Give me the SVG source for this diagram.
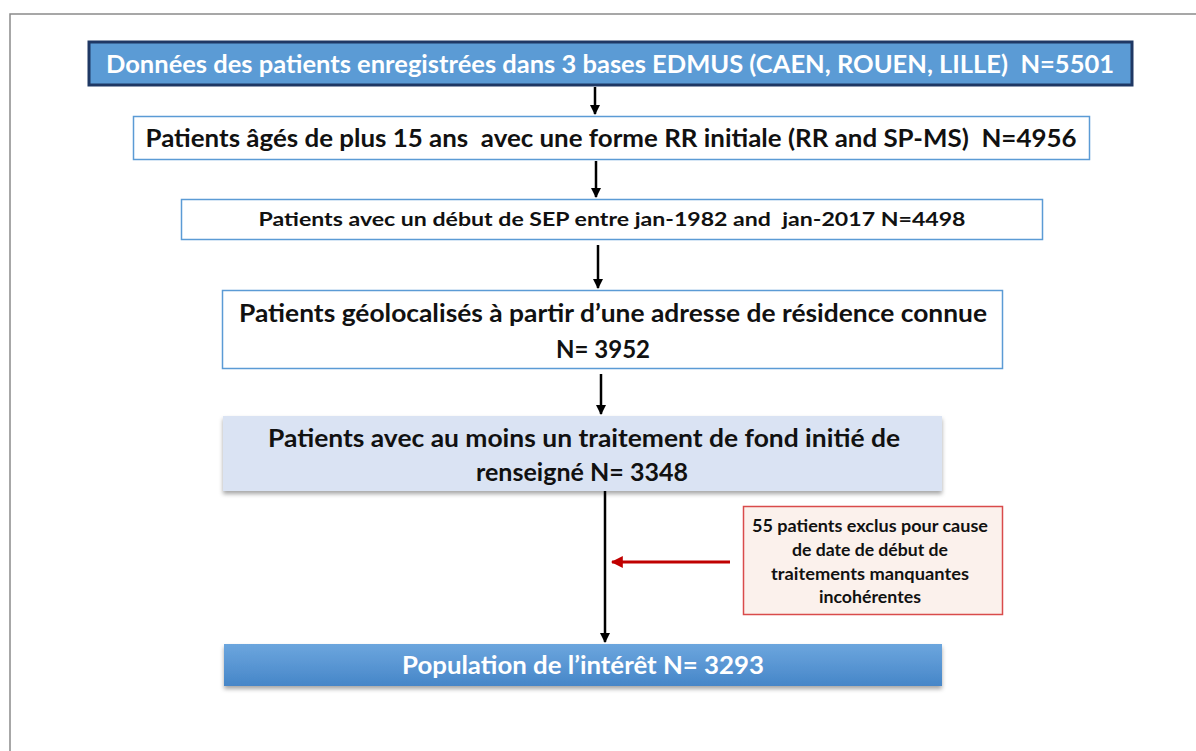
<svg xmlns="http://www.w3.org/2000/svg" width="1196" height="751" viewBox="0 0 1196 751">
<defs>
<style>
.t{font-family:Lato,"Open Sans","Liberation Sans",sans-serif;font-weight:bold;text-anchor:middle;white-space:pre}
.w{fill:#ffffff}
.k{fill:#111111}
.conn line{stroke:#000;stroke-width:2.5}
</style>
<marker id="ah" viewBox="0 0 10 10" refX="9" refY="5" markerWidth="4" markerHeight="4" orient="auto" markerUnits="strokeWidth">
<path d="M0,0 L10,5 L0,10 z" fill="#000"/>
</marker>
<marker id="ahr" viewBox="0 0 10 10" refX="9" refY="5" markerWidth="4" markerHeight="4" orient="auto" markerUnits="strokeWidth">
<path d="M0,0 L10,5 L0,10 z" fill="#C00000"/>
</marker>
<linearGradient id="g6" x1="0" y1="0" x2="0" y2="1">
<stop offset="0" stop-color="#6CA6DE"/>
<stop offset="1" stop-color="#4686C8"/>
</linearGradient>
<filter id="sh" x="-5%" y="-20%" width="110%" height="150%">
<feDropShadow dx="0" dy="3" stdDeviation="2" flood-color="#000" flood-opacity="0.35"/>
</filter>
</defs>
<rect width="1196" height="751" fill="#ffffff"/>
<rect x="10" y="14" width="1200" height="760" fill="none" stroke="#8a8a8a" stroke-width="1.5"/>

<g id="n1">
<rect x="89" y="42" width="1043" height="43" fill="#5B9BD5" stroke="#1F3864" stroke-width="3"/>
<text class="t w" x="610" y="73" font-size="24" textLength="1008" lengthAdjust="spacingAndGlyphs" xml:space="preserve">Données des patients enregistrées dans 3 bases EDMUS (CAEN, ROUEN, LILLE)  N=5501</text>
</g>
<g id="n2">
<rect x="133.5" y="116.5" width="956" height="43" fill="#ffffff" stroke="#5B9BD5" stroke-width="1.5"/>
<text class="t k" x="611" y="147" font-size="24" textLength="931" lengthAdjust="spacingAndGlyphs" xml:space="preserve">Patients âgés de plus 15 ans  avec une forme RR initiale (RR and SP-MS)  N=4956</text>
</g>
<g id="n3">
<rect x="181.5" y="199.5" width="861" height="40" fill="#ffffff" stroke="#5B9BD5" stroke-width="1.5"/>
<text class="t k" x="612" y="226" font-size="19.5" textLength="707" lengthAdjust="spacingAndGlyphs" xml:space="preserve">Patients avec un début de SEP entre jan-1982 and  jan-2017 N=4498</text>
</g>
<g id="n4">
<rect x="222.5" y="290.5" width="780" height="78" fill="#ffffff" stroke="#5B9BD5" stroke-width="1.5"/>
<text class="t k" x="613" y="322" font-size="24" textLength="748" lengthAdjust="spacingAndGlyphs">Patients géolocalisés à partir d’une adresse de résidence connue</text>
<text class="t k" x="603" y="358" font-size="24" textLength="94" lengthAdjust="spacingAndGlyphs">N= 3952</text>
</g>
<g id="n5">
<rect x="223" y="416" width="719" height="75" fill="#DAE3F3" filter="url(#sh)"/>
<text class="t k" x="584" y="447" font-size="24" textLength="632" lengthAdjust="spacingAndGlyphs">Patients avec au moins un traitement de fond initié de</text>
<text class="t k" x="582" y="481" font-size="24" textLength="212" lengthAdjust="spacingAndGlyphs">renseigné N= 3348</text>
</g>
<g id="n7">
<rect x="743.5" y="506.5" width="259" height="108" fill="#FBF1EC" stroke="#D94B4B" stroke-width="1.5"/>
<text class="t k" font-size="16.5">
<tspan x="872" y="532" textLength="236" lengthAdjust="spacingAndGlyphs">55 patients exclus pour cause</tspan>
<tspan x="872" y="556" textLength="156" lengthAdjust="spacingAndGlyphs">de date de début de</tspan>
<tspan x="872" y="580" textLength="198" lengthAdjust="spacingAndGlyphs">traitements manquantes</tspan>
<tspan x="872" y="603" textLength="102" lengthAdjust="spacingAndGlyphs">incohérentes</tspan>
</text>
</g>
<g id="n6">
<rect x="224" y="644" width="718" height="42" fill="url(#g6)" filter="url(#sh)"/>
<text class="t w" x="583" y="674" font-size="24" textLength="362" lengthAdjust="spacingAndGlyphs">Population de l’intérêt N= 3293</text>
</g>

<g id="connectors" class="conn">
<line x1="595" y1="87" x2="595" y2="114" marker-end="url(#ah)"/>
<line x1="596" y1="161" x2="596" y2="197" marker-end="url(#ah)"/>
<line x1="598" y1="245" x2="598" y2="288" marker-end="url(#ah)"/>
<line x1="601" y1="374" x2="601" y2="414" marker-end="url(#ah)"/>
<line x1="605" y1="491" x2="605" y2="642" stroke-width="3.5" marker-end="url(#ah)"/>
<line x1="730" y1="562" x2="612" y2="562" style="stroke:#C00000;stroke-width:3" marker-end="url(#ahr)"/>
</g>
</svg>
